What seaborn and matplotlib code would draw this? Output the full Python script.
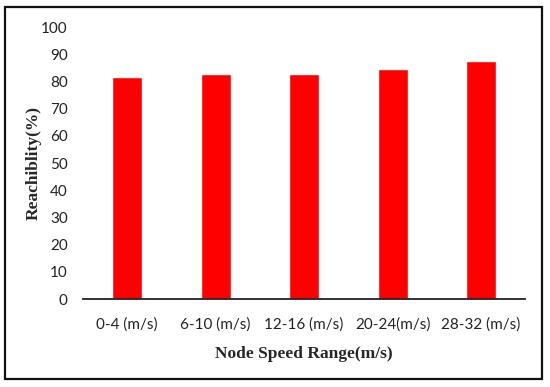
import numpy as np
import pandas as pd
import seaborn as sns
import matplotlib.pyplot as plt
from matplotlib.patches import Rectangle

# values
speed_ranges = ['0-4 (m/s)', '6-10 (m/s)', '12-16 (m/s)', '20-24(m/s)', '28-32 (m/s)']
reachability = [81.7, 82.7, 82.7, 84.5, 87.4]

df = pd.DataFrame({'range': speed_ranges, 'reach': reachability})

sns.set_style('white')
plt.rcParams['font.family'] = ['Lato', 'DejaVu Sans']

fig = plt.figure(figsize=(5.5, 3.87), dpi=100)
ax = fig.add_axes([0.151, 0.227, 0.804, 0.703])

sns.barplot(data=df, x='range', y='reach', color='#ff0000', saturation=1,
            width=0.34, ax=ax)

ax.set_ylim(0, 100)
ax.set_xlim(-0.5, 4.5)
ax.set_yticks(np.arange(0, 101, 10))
ax.tick_params(axis='both', length=0, labelsize=11, colors='#222222')
ax.tick_params(axis='x', pad=13)
ax.tick_params(axis='y', pad=11)

for s in ['top', 'right', 'left']:
    ax.spines[s].set_visible(False)
ax.spines['bottom'].set_color('#222222')
ax.spines['bottom'].set_linewidth(1.3)

ax.set_xlabel('Node Speed Range(m/s)', family='Liberation Serif',
              fontweight='bold', fontsize=12.5)
ax.set_ylabel('Reachiblity(%)', family='Liberation Serif',
              fontweight='bold', fontsize=12.5)
ax.xaxis.set_label_coords(0.5, -0.173)
ax.yaxis.set_label_coords(-0.093, 0.5)

# outer frame around the whole chart
fig.patches.append(Rectangle((5 / 550, 1 - 379 / 387), 537 / 550, 372 / 387,
                             transform=fig.transFigure, fill=False,
                             edgecolor='#111111', linewidth=1.6))

fig.savefig('out.png', dpi=100)
